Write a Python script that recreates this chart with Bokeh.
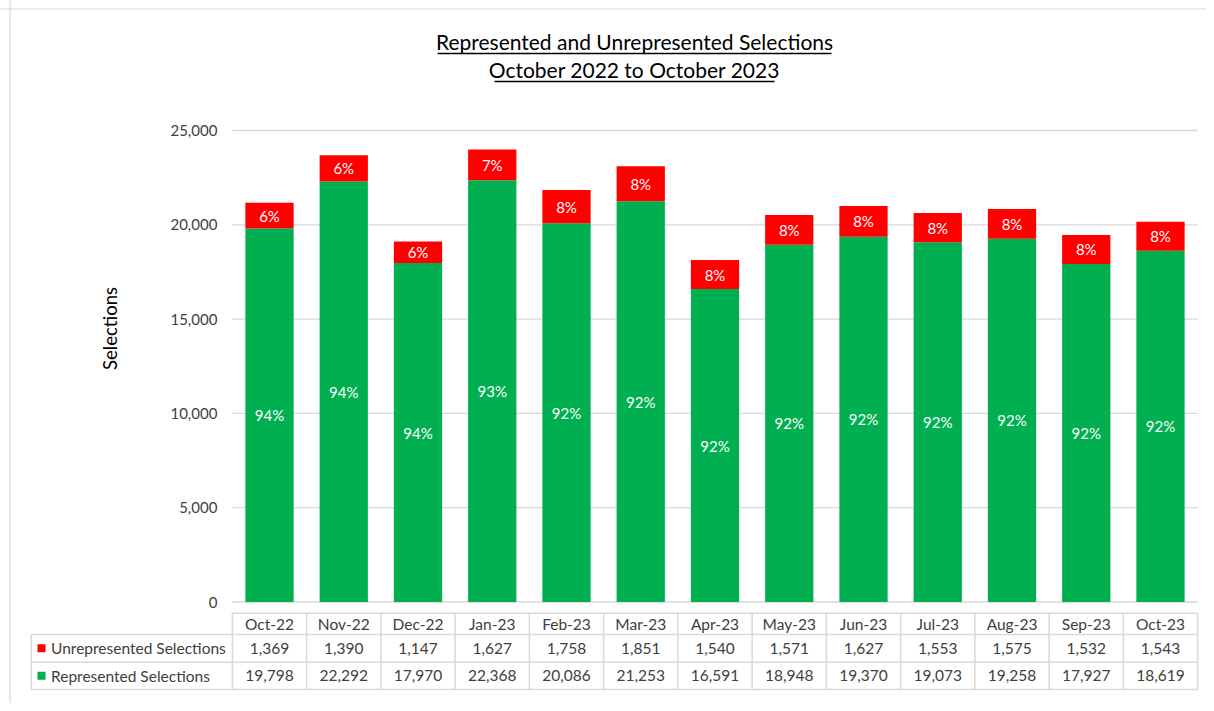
import math
from bokeh.plotting import figure
from bokeh.models import Range1d, LinearAxis, FixedTicker, NumeralTickFormatter, ColumnDataSource
from bokeh.core.properties import value
from bokeh.embed import file_html
from bokeh.resources import INLINE

# ---------------- data ----------------
months = ["Oct-22", "Nov-22", "Dec-22", "Jan-23", "Feb-23", "Mar-23", "Apr-23",
          "May-23", "Jun-23", "Jul-23", "Aug-23", "Sep-23", "Oct-23"]
unrepresented = [1369, 1390, 1147, 1627, 1758, 1851, 1540, 1571, 1627, 1553, 1575, 1532, 1543]
represented = [19798, 22292, 17970, 22368, 20086, 21253, 16591, 18948, 19370, 19073, 19258, 17927, 18619]
y_ticks = [0, 5000, 10000, 15000, 20000, 25000]
series_names = ["Unrepresented Selections", "Represented Selections"]
title_lines = ["Represented and Unrepresented Selections", "October 2022 to October 2023"]
y_label = "Selections"

# ---------------- style / layout ----------------
GREEN = "#00B050"
RED = "#FF0000"
GRID = "#D9D9D9"
TEXT = "#404040"
FONT = value("Lato")

W, H = 1206, 703
ORG_X, ORG_Y = 0, 0                    # image coords of the canvas origin
CAT0_PX, CAT_STEP = 269.0, 74.25       # x of first category centre, slot width
Y0_PX, YTOP_PX, YTOP_VAL = 601.5, 130.0, 25000.0

n = len(months)
idx = list(range(n))
total = [u + r for u, r in zip(unrepresented, represented)]
pct_rep = ["{:.0%}".format(r / t) for r, t in zip(represented, total)]
pct_unr = ["{:.0%}".format(u / t) for u, t in zip(unrepresented, total)]
mid_rep = [r / 2 for r in represented]
mid_unr = [r + u / 2 for r, u in zip(represented, unrepresented)]

k = YTOP_VAL / (Y0_PX - YTOP_PX)
x_range = Range1d((ORG_X - CAT0_PX) / CAT_STEP, (ORG_X + W - CAT0_PX) / CAT_STEP)
y_range = Range1d(-(ORG_Y + H - Y0_PX) * k, (Y0_PX - ORG_Y) * k)

p = figure(width=W, height=H, x_range=x_range, y_range=y_range,
           x_axis_type=None, y_axis_type=None, toolbar_location=None,
           output_backend="svg", min_border=0, outline_line_color=None,
           background_fill_color="white", border_fill_color="white")
p.grid.visible = False
p.extra_x_ranges = {"px": Range1d(ORG_X, ORG_X + W)}
p.extra_y_ranges = {"px": Range1d(ORG_Y + H, ORG_Y)}

# outer border (top + left)
p.segment(x0=[ORG_X, 9.5], x1=[ORG_X + W, 9.5], y0=[8.5, ORG_Y], y1=[8.5, ORG_Y + H],
          x_range_name="px", y_range_name="px", line_color=GRID, line_width=1.2)

# gridlines
p.segment(x0=[-0.5] * len(y_ticks), x1=[n - 0.5] * len(y_ticks), y0=y_ticks, y1=y_ticks,
          line_color=GRID, line_width=1.3)

# bars
src = ColumnDataSource(dict(x=idx, rep=represented, unr=unrepresented, total=total,
                            pr=pct_rep, pu=pct_unr, mr=mid_rep, mu=mid_unr))
p.vbar(x="x", bottom=0, top="rep", width=0.65, source=src, fill_color=GREEN, line_color=None)
p.vbar(x="x", bottom="rep", top="total", width=0.65, source=src, fill_color=RED, line_color=None)

# bar labels
p.text(x="x", y="mr", text="pr", source=src, text_align="center", text_baseline="middle",
       text_color="white", text_font=FONT, text_font_size=value("15px"))
p.text(x="x", y="mu", text="pu", source=src, text_align="center", text_baseline="middle",
       text_color="white", text_font=FONT, text_font_size=value("15px"))

# y axis
yaxis = LinearAxis(fixed_location=-0.5, ticker=FixedTicker(ticks=y_ticks),
                   formatter=NumeralTickFormatter(format="0,0"),
                   axis_line_color=None, major_tick_line_color=None, minor_tick_line_color=None,
                   major_tick_out=0, major_tick_in=0, major_label_standoff=15,
                   major_label_text_font="Lato", major_label_text_font_size="15px",
                   major_label_text_color=TEXT)
p.add_layout(yaxis, "left")

# y axis title
p.text(x=[109], y=[328], text=[y_label], x_range_name="px", y_range_name="px",
       angle=math.pi / 2, text_align="center", text_baseline="middle",
       text_color="black", text_font=FONT, text_font_size=value("18.5px"))

# chart title (underlined)
p.text(x=[634, 634], y=[41, 69], text=title_lines, x_range_name="px", y_range_name="px",
       text_align="center", text_baseline="middle", text_color="black",
       text_font=FONT, text_font_size=value("21px"))
p.segment(x0=[437, 494], x1=[831, 774], y0=[53, 81], y1=[53, 81],
          x_range_name="px", y_range_name="px", line_color="black", line_width=1.3)

# data table
T_TOP, R1, R2, T_BOT, T_LEFT = 612.7, 634.0, 661.7, 689.0, 30.7
T_RIGHT = CAT0_PX + CAT_STEP * (n - 0.5)
p.segment(x0=[-0.5], x1=[n - 0.5], y0=[T_TOP], y1=[T_TOP], y_range_name="px",
          line_color=GRID, line_width=1.5)
p.segment(x0=[T_LEFT] * 3, x1=[T_RIGHT] * 3, y0=[R1, R2, T_BOT], y1=[R1, R2, T_BOT],
          x_range_name="px", y_range_name="px", line_color=GRID, line_width=1.5)
bounds = [i - 0.5 for i in range(n + 1)]
p.segment(x0=bounds, x1=bounds, y0=[T_TOP] * (n + 1), y1=[T_BOT] * (n + 1),
          y_range_name="px", line_color=GRID, line_width=1.5)
p.segment(x0=[T_LEFT], x1=[T_LEFT], y0=[R1], y1=[T_BOT], x_range_name="px", y_range_name="px",
          line_color=GRID, line_width=1.5)

tbl = ColumnDataSource(dict(x=idx, m=months, u=["{:,}".format(v) for v in unrepresented],
                            r=["{:,}".format(v) for v in represented]))
for col, yy in (("m", (T_TOP + R1) / 2), ("u", (R1 + R2) / 2), ("r", (R2 + T_BOT) / 2)):
    p.text(x="x", y=yy, text=col, source=tbl, y_range_name="px", text_align="center",
           text_baseline="middle", text_color=TEXT, text_font=FONT, text_font_size=value("15.5px"))

# legend keys in table
p.scatter(x=[41, 41], y=[(R1 + R2) / 2, (R2 + T_BOT) / 2], marker="square", size=8,
          fill_color=[RED, GREEN], line_color=None, x_range_name="px", y_range_name="px")
p.text(x=[50.5, 50.5], y=[(R1 + R2) / 2, (R2 + T_BOT) / 2], text=series_names,
       x_range_name="px", y_range_name="px", text_align="left", text_baseline="middle",
       text_color=TEXT, text_font=FONT, text_font_size=value("15.5px"))

open("out.html", "w").write(file_html(p, INLINE))
